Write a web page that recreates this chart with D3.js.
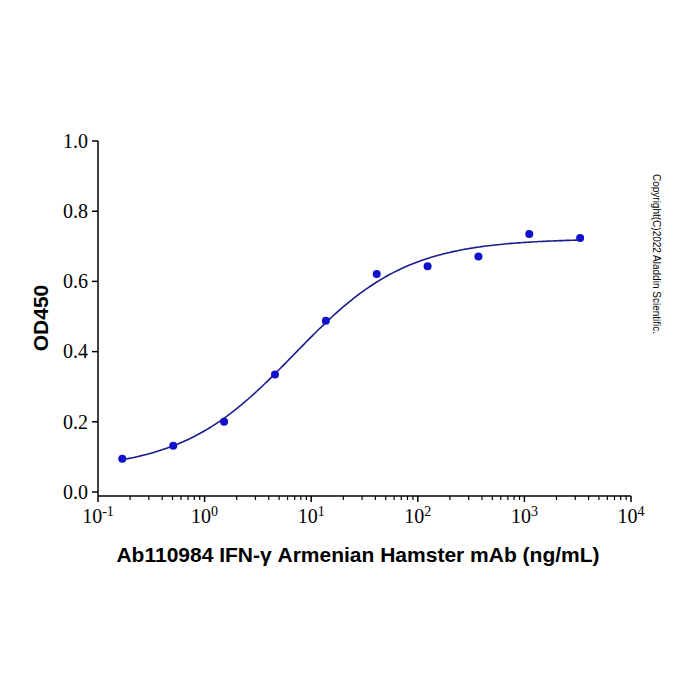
<!DOCTYPE html>
<html lang="en">
  <head>
    <title>IFN-γ ELISA</title>
    <meta charset="utf-8">
    <script src="https://d3js.org/d3.v7.min.js"></script>
    <style>
      body { margin: 0; background: #fff; }
    </style>
  </head>
  <body>
    <svg></svg>

    <script>
      // concentrations (ng/mL), 3-fold dilution
      const conc = [0.169, 0.508, 1.524, 4.572, 13.72, 41.15, 123.5, 370.4, 1111, 3333]
      const od = [0.095, 0.132, 0.200, 0.335, 0.488, 0.621, 0.643, 0.671, 0.735, 0.724]

      // 4PL fit parameters: bottom, top, EC50, hill
      const fit = { bottom: 0.062, top: 0.722, ec50: 6.9, hill: 0.82 }

      const yTicks = [0, 0.2, 0.4, 0.6, 0.8, 1.0]
      const xDecades = [-1, 0, 1, 2, 3, 4]

      const svg = d3.select('svg')
        .attr('width', 700)
        .attr('height', 700)

      const x = d3.scaleLog().domain([0.1, 10000]).range([98, 631])
      const y = d3.scaleLinear().domain([0, 1]).range([492, 141])
      const axisY = 496

      // x axis: major decades + minor 2..9
      const minor = []
      for (let e = -1; e < 4; e++) {
        for (let k = 2; k < 10; k++) minor.push(k * Math.pow(10, e))
      }
      const gx = svg.append('g').attr('transform', `translate(0,${axisY})`)
      gx.append('line')
        .attr('x1', 98).attr('x2', 631)
        .attr('stroke', '#000').attr('stroke-width', 1.5)
      gx.selectAll('.minor').data(minor).join('line')
        .attr('x1', d => x(d)).attr('x2', d => x(d))
        .attr('y1', 0).attr('y2', 4)
        .attr('stroke', '#000').attr('stroke-width', 1.2)
      gx.selectAll('.major').data(xDecades).join('line')
        .attr('x1', d => x(Math.pow(10, d))).attr('x2', d => x(Math.pow(10, d)))
        .attr('y1', 0).attr('y2', 6)
        .attr('stroke', '#000').attr('stroke-width', 1.5)
      const lbl = gx.selectAll('.lbl').data(xDecades).join('text')
        .attr('x', d => x(Math.pow(10, d)))
        .attr('y', 27)
        .attr('text-anchor', 'middle')
        .style('font-family', '"Liberation Serif", "Times New Roman", serif')
        .style('font-size', '20px')
      lbl.append('tspan').text('10')
      lbl.append('tspan')
        .attr('dy', -7)
        .style('font-size', '14px')
        .text(d => d < 0 ? '-' + Math.abs(d) : d)

      // y axis
      const gy = svg.append('g').attr('transform', 'translate(98,0)')
      gy.append('line')
        .attr('y1', 141).attr('y2', axisY)
        .attr('stroke', '#000').attr('stroke-width', 1.5)
      gy.selectAll('.tick').data(yTicks).join('line')
        .attr('x1', -6).attr('x2', 0)
        .attr('y1', d => y(d)).attr('y2', d => y(d))
        .attr('stroke', '#000').attr('stroke-width', 1.5)
      gy.selectAll('.lbl').data(yTicks).join('text')
        .attr('x', -10)
        .attr('y', d => y(d))
        .attr('dy', '0.34em')
        .attr('text-anchor', 'end')
        .style('font-family', '"Liberation Serif", "Times New Roman", serif')
        .style('font-size', '20px')
        .text(d => d.toFixed(1))

      // fitted curve, only over the measured range
      const f = c => fit.bottom + (fit.top - fit.bottom) / (1 + Math.pow(fit.ec50 / c, fit.hill))
      const lo = Math.log10(conc[0])
      const hi = Math.log10(conc[conc.length - 1])
      const curve = d3.range(0, 201).map(i => Math.pow(10, lo + i / 200 * (hi - lo)))
      svg.append('path')
        .datum(curve)
        .attr('d', d3.line().x(d => x(d)).y(d => y(f(d))))
        .attr('fill', 'none')
        .attr('stroke', '#1c1c8e')
        .attr('stroke-width', 1.6)

      // points
      svg.selectAll('.pt').data(conc).join('circle')
        .attr('cx', d => x(d))
        .attr('cy', (d, i) => y(od[i]))
        .attr('r', 4)
        .attr('fill', '#1111cc')

      // titles
      svg.append('text')
        .attr('x', 358).attr('y', 562)
        .attr('text-anchor', 'middle')
        .style('font-family', '"Liberation Sans", Arial, sans-serif')
        .style('font-weight', 'bold')
        .style('font-size', '21px')
        .text('Ab110984 IFN-γ Armenian Hamster mAb (ng/mL)')

      svg.append('text')
        .attr('transform', 'translate(48,318) rotate(-90)')
        .attr('text-anchor', 'middle')
        .style('font-family', '"Liberation Sans", Arial, sans-serif')
        .style('font-weight', 'bold')
        .style('font-size', '21px')
        .text('OD450')

      svg.append('text')
        .attr('transform', 'translate(653,254) rotate(90)')
        .attr('text-anchor', 'middle')
        .style('font-family', '"Liberation Sans", Arial, sans-serif')
        .style('font-size', '10px')
        .text('Copyright(C)2022 Aladdin Scientific.')
    </script>
  </body>
</html>
